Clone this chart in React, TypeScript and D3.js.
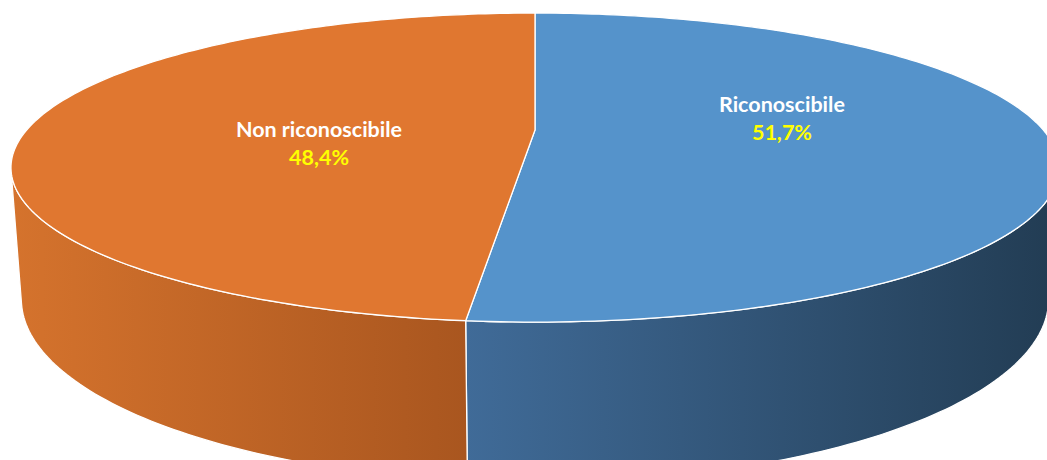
import React from "react";
import * as d3 from "d3";

// ---- data ----
const categories = ["Riconoscibile", "Non riconoscibile"];
const values = [51.7, 48.4];
const valueLabels = ["51,7%", "48,4%"];

// ---- styles / layout ----
const topColors = ["#5593CB", "#E07730"];
const sideColorsLeft = ["#406B98", "#D5732D"];
const sideColorsRight = ["#223C53", "#A9561F"];
const labelLayout = [
  { angleDeg: 80.9, radius: 0.5015 },
  { angleDeg: 257.5, radius: 0.4255 },
];

const W = 1047;
const HGT = 460;

// perspective camera
const F = 2003;
const sinPhi = 0.286;
const cosPhi = Math.sqrt(1 - sinPhi * sinPhi);
const Dcam = 3.776;
const Hcam = Dcam * (sinPhi / cosPhi);
const T = 0.263; // thickness
const CX = 535;
const CY = 130;

function project(theta: number, r: number, y: number): [number, number] {
  const X = r * Math.sin(theta);
  const Zw = r * Math.cos(theta);
  const ry = y - Hcam;
  const rz = Zw + Dcam;
  const zc = -ry * sinPhi + rz * cosPhi;
  const up = ry * cosPhi + rz * sinPhi;
  return [CX + (F * X) / zc, CY - (F * up) / zc];
}

function arcPts(a0: number, a1: number, r: number, y: number): [number, number][] {
  const n = Math.max(2, Math.ceil((Math.abs(a1 - a0) / (Math.PI * 2)) * 360));
  const pts: [number, number][] = [];
  for (let i = 0; i <= n; i++) {
    const t = a0 + ((a1 - a0) * i) / n;
    pts.push(project(t, r, y));
  }
  return pts;
}

const line = d3.line<[number, number]>().x((d) => d[0]).y((d) => d[1]);

export default function App() {
  const pie = d3
    .pie<number>()
    .sort(null)
    .startAngle(0)
    .endAngle(Math.PI * 2)
    .value((d) => d);
  const arcs = pie(values);

  // visible wall range: cos(theta) < -1/D
  const thMin = Math.acos(-1 / Dcam);
  const thMax = Math.PI * 2 - thMin;

  const walls = arcs
    .map((a, i) => {
      const s = Math.max(a.startAngle, thMin);
      const e = Math.min(a.endAngle, thMax);
      if (e <= s) return null;
      const topArc = arcPts(s, e, 1, 0);
      const botArc = arcPts(e, s, 1, -T);
      const pts = [...topArc, ...botArc];
      const xs = pts.map((p) => p[0]);
      return {
        i,
        d: line(pts)! + "Z",
        x1: d3.min(xs)!,
        x2: d3.max(xs)!,
      };
    })
    .filter((w) => w !== null) as { i: number; d: string; x1: number; x2: number }[];

  const tops = arcs.map((a, i) => {
    const pts = [project(0, 0, 0), ...arcPts(a.startAngle, a.endAngle, 1, 0)];
    return { i, d: line(pts)! + "Z" };
  });

  const labels = arcs.map((a, i) => {
    const L = labelLayout[i];
    const [x, y] = project((L.angleDeg * Math.PI) / 180, L.radius, 0);
    return { i, x, y };
  });

  return (
    <svg
      width={W}
      height={HGT}
      style={{ position: "absolute", left: 0, top: 0, display: "block" }}
      viewBox={`0 0 ${W} ${HGT}`}
    >
      <defs>
        {walls.map((w) => (
          <linearGradient
            key={w.i}
            id={`side${w.i}`}
            gradientUnits="userSpaceOnUse"
            x1={w.i === 0 ? w.x1 : w.x1}
            x2={w.x2}
            y1={0}
            y2={0}
          >
            <stop offset="0%" stopColor={sideColorsLeft[w.i]} />
            <stop offset="100%" stopColor={sideColorsRight[w.i]} />
          </linearGradient>
        ))}
      </defs>
      <rect width={W} height={HGT} fill="#ffffff" />
      {walls.map((w) => (
        <path
          key={`w${w.i}`}
          d={w.d}
          fill={`url(#side${w.i})`}
          stroke="#ffffff"
          strokeWidth={1.3}
          strokeLinejoin="round"
        />
      ))}
      {tops.map((t) => (
        <path
          key={`t${t.i}`}
          d={t.d}
          fill={topColors[t.i]}
          stroke="#ffffff"
          strokeWidth={1.3}
          strokeLinejoin="round"
        />
      ))}
      {labels.map((l) => (
        <g key={`l${l.i}`} fontFamily="Lato, 'Open Sans', sans-serif" fontWeight={700} fontSize={21.5} textAnchor="middle">
          <text x={l.x} y={l.y - 7} fill="#ffffff">
            {categories[l.i]}
          </text>
          <text x={l.x} y={l.y + 21} fill="#FFFF00">
            {valueLabels[l.i]}
          </text>
        </g>
      ))}
    </svg>
  );
}
